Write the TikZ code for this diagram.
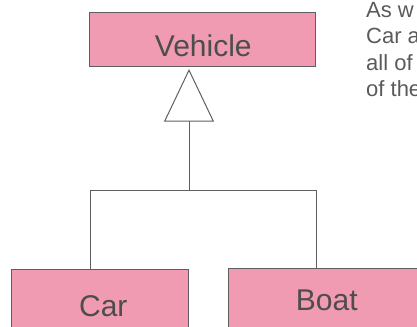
\documentclass[tikz,border=0pt]{standalone}
\usepackage{fontspec}
\setmainfont{Liberation Sans}
\usetikzlibrary{arrows.meta}
\definecolor{classfill}{RGB}{241,155,178}
\definecolor{classedge}{RGB}{95,95,95}
\definecolor{classtext}{RGB}{77,77,77}
\definecolor{notetext}{RGB}{90,90,90}
\tikzset{
  classbox/.style={draw=classedge, fill=classfill, line width=1bp, inner sep=0pt},
  classname/.style={text=classtext, font=\fontsize{30bp}{36bp}\selectfont, inner sep=0pt, anchor=base},
  link/.style={draw=classedge, line width=1bp},
  notetxt/.style={text=notetext, font=\fontsize{22bp}{26bp}\selectfont, inner sep=0pt, anchor=base west}
}
\begin{document}
\begin{tikzpicture}[x=1bp, y=-1bp]
  \useasboundingbox (0,0) rectangle (417,327);
  \clip (0,0) rectangle (417,327);

  % class boxes
  \node[classbox, minimum width=226.2bp, minimum height=53.3bp] (vehicle) at (202.6,39.35) {};
  \node[classbox, minimum width=177bp, minimum height=80bp] (car) at (99.8,309.3) {};
  \node[classbox, minimum width=201.3bp, minimum height=80bp] (boat) at (329.35,308) {};

  % class names
  \node[classname] (vehiclename) at (203.3,56) {Vehicle};
  \node[classname] (carname) at (103.3,316) {Car};
  \node[classname] (boatname) at (326.8,310) {Boat};

  % generalisation connector
  \coordinate (jl) at (90,190);
  \coordinate (jm) at (189,190);
  \coordinate (jr) at (316.7,190);
  \coordinate (apex) at (189,69);
  \draw[link] (car.north -| jl) -- (jl) -- (jr) -- (boat.north -| jr);
  \draw[link, -{Triangle[open, length=52.7bp, width=50bp]}] (jm) -- (apex);

  % side note
  \node[notetxt] (note1) at (366,17.3) {As w};
  \node[notetxt] (note2) at (366,43.8) {Car a};
  \node[notetxt] (note3) at (366,70.3) {all of};
  \node[notetxt] (note4) at (366,96.8) {of the};
\end{tikzpicture}
\end{document}
